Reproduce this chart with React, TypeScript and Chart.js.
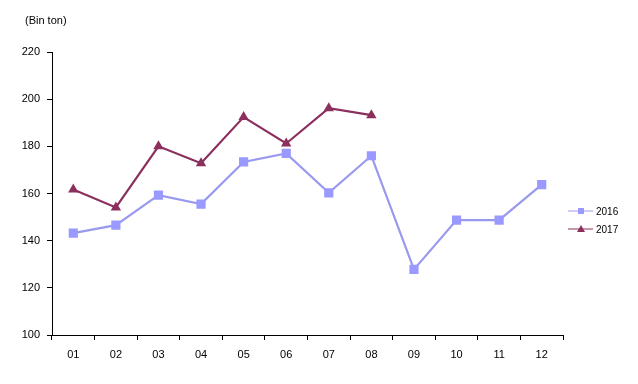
import React, { useEffect, useRef } from "react";
import { Chart, registerables } from "chart.js";

Chart.register(...registerables);

const categories = ["01", "02", "03", "04", "05", "06", "07", "08", "09", "10", "11", "12"];
const values2016 = [143.2, 146.6, 159.3, 155.5, 173.4, 177.0, 160.3, 176.0, 127.8, 148.7, 148.7, 163.8];
const values2017 = [161.7, 154.1, 180.0, 172.8, 192.4, 181.2, 196.2, 193.2, null, null, null, null];
const seriesNames = ["2016", "2017"];
const yTicks = [100, 120, 140, 160, 180, 200, 220];
const unitLabel = "(Bin ton)";

const C2016 = "#9999EE";
const C2016M = "#9999FF";
const C2017 = "#8B2F5F";

const FONT = "'Liberation Sans', Arial, sans-serif";

const legendPlugin = {
  id: "customLegend",
  afterDraw(chart: any) {
    const ctx = chart.ctx;
    const items = [
      { name: seriesNames[0], color: C2016, fill: C2016M, style: "rect", y: 211 },
      { name: seriesNames[1], color: C2017, fill: C2017, style: "triangle", y: 229 },
    ];
    ctx.save();
    ctx.font = `10px ${FONT}`;
    ctx.textBaseline = "middle";
    ctx.textAlign = "left";
    items.forEach((it) => {
      ctx.strokeStyle = it.color;
      ctx.lineWidth = 1;
      ctx.beginPath();
      ctx.moveTo(568, it.y);
      ctx.lineTo(593, it.y);
      ctx.stroke();
      ctx.fillStyle = it.fill;
      if (it.style === "rect") {
        ctx.fillRect(578, it.y - 3, 6, 6);
      } else {
        ctx.beginPath();
        ctx.moveTo(581, it.y - 4);
        ctx.lineTo(585, it.y + 3);
        ctx.lineTo(577, it.y + 3);
        ctx.closePath();
        ctx.fill();
      }
      ctx.fillStyle = "#000";
      ctx.fillText(it.name, 596, it.y + 1);
    });
    ctx.font = `11px ${FONT}`;
    ctx.fillText(unitLabel, 25, 21);
    ctx.restore();
  },
};

export default function App() {
  const ref = useRef<HTMLCanvasElement>(null);
  useEffect(() => {
    if (!ref.current) return;
    const chart = new Chart(ref.current, {
      type: "line",
      data: {
        labels: categories,
        datasets: [
          {
            label: seriesNames[0],
            data: values2016,
            borderColor: C2016,
            backgroundColor: C2016M,
            borderWidth: 2.2,
            pointStyle: "rect",
            pointRadius: 6.5,
            pointBorderWidth: 0,
            pointBackgroundColor: C2016M,
            tension: 0,
          },
          {
            label: seriesNames[1],
            data: values2017,
            borderColor: C2017,
            backgroundColor: C2017,
            borderWidth: 2.2,
            pointStyle: "triangle",
            pointRadius: 6,
            pointBorderWidth: 0,
            pointBackgroundColor: C2017,
            tension: 0,
            spanGaps: false,
          },
        ],
      },
      options: {
        animation: false,
        responsive: false,
        maintainAspectRatio: false,
        layout: { padding: { top: 52, right: 75, left: 0, bottom: 0 } },
        plugins: { legend: { display: false }, tooltip: { enabled: false } },
        scales: {
          x: {
            type: "category",
            offset: true,
            afterFit: (s: any) => {
              s.height = 49;
            },
            grid: {
              offset: true,
              drawOnChartArea: false,
              drawTicks: true,
              tickLength: 5,
              tickColor: "#000",
              color: "#000",
            },
            border: { display: true, color: "#000", width: 1 },
            ticks: {
              color: "#000",
              font: { family: FONT, size: 11 },
              padding: 8,
              maxRotation: 0,
              autoSkip: false,
            },
          },
          y: {
            min: yTicks[0],
            max: yTicks[yTicks.length - 1],
            afterFit: (s: any) => {
              s.width = 52;
            },
            afterBuildTicks: (s: any) => {
              s.ticks = yTicks.map((v) => ({ value: v }));
            },
            grid: {
              drawOnChartArea: false,
              drawTicks: true,
              tickLength: 5,
              tickColor: "#000",
              color: "#000",
            },
            border: { display: true, color: "#000", width: 1 },
            ticks: {
              color: "#000",
              font: { family: FONT, size: 11 },
              padding: 7,
            },
          },
        },
      },
      plugins: [legendPlugin],
    });
    return () => chart.destroy();
  }, []);
  return (
    <div style={{ position: "absolute", left: 0, top: 0, width: 638, height: 384, background: "#fff" }}>
      <canvas ref={ref} width={638} height={384} style={{ width: 638, height: 384 }} />
    </div>
  );
}
